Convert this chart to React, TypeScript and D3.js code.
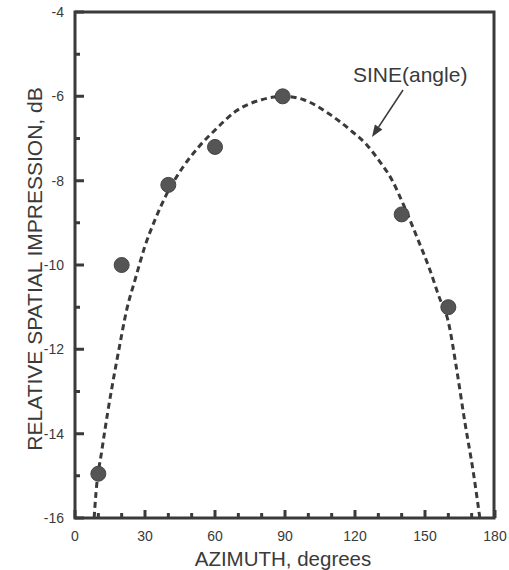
import React from "react";
import * as d3 from "d3";

const azimuth = [10, 20, 40, 60, 89, 140, 160];
const impression = [-14.95, -10.0, -8.1, -7.2, -6.0, -8.8, -11.0];

const sineAz = [8.2, 9, 11.5, 14, 16, 19, 22, 26, 30, 34.5, 39, 46, 53, 60, 69, 80, 90, 98, 109, 118, 125, 130, 136, 141, 147, 152, 156, 160, 163.5, 167, 170.8, 173.5];
const sineDb = [-16.0, -15.4, -14.4, -13.5, -12.85, -11.95, -11.1, -10.3, -9.55, -8.9, -8.35, -7.7, -7.2, -6.8, -6.35, -6.08, -6.0, -6.08, -6.42, -6.8, -7.15, -7.5, -8.0, -8.6, -9.4, -10.1, -10.75, -11.35, -12.45, -13.7, -14.95, -16.0];

const xTicks = [0, 30, 60, 90, 120, 150, 180];
const xMinor = [10, 20, 40, 50, 70, 80, 100, 110, 130, 140, 160, 170];
const yTicks = [-4, -6, -8, -10, -12, -14, -16];
const yMinor = [-5, -7, -9, -11, -13, -15];

const xTitle = "AZIMUTH, degrees";
const yTitle = "RELATIVE SPATIAL IMPRESSION, dB";
const noteText = "SINE(angle)";

export default function App() {
  const W = 509, H = 570;
  const left = 75, right = 494, top = 12, bottom = 518;
  const x = d3.scaleLinear().domain([0, 180]).range([left, 495]);
  const y = d3.scaleLinear().domain([-16, -4]).range([bottom, top]);
  const ink = "#3a3a3a";
  const font = "'Liberation Sans', Arial, Helvetica, sans-serif";

  const line = d3
    .line<number>()
    .x((_, i) => x(sineAz[i]))
    .y((d) => y(d))
    .curve(d3.curveMonotoneX);
  const pathD = line(sineDb) || "";

  // arrow
  const ax1 = 403, ay1 = 90, ax2 = 372, ay2 = 137;
  const ang = Math.atan2(ay2 - ay1, ax2 - ax1);
  const hl = 12, hw = 4.5;
  const bx = ax2 - hl * Math.cos(ang), by = ay2 - hl * Math.sin(ang);
  const head = `M${ax2},${ay2} L${bx + hw * Math.sin(ang)},${by - hw * Math.cos(ang)} L${bx - hw * Math.sin(ang)},${by + hw * Math.cos(ang)} Z`;

  const tickPath = [
    ...yTicks.map((t) => `M${left},${y(t)}H${left + 9}`),
    ...yMinor.map((t) => `M${left},${y(t)}H${left + 5}`),
    ...xTicks.map((t) => `M${x(t)},${bottom}V${bottom - 8}`),
    ...xMinor.map((t) => `M${x(t)},${bottom}V${bottom - 5}`),
  ].join("");

  return (
    <svg width={W} height={H} style={{ position: "absolute", left: 0, top: 0, background: "#fff" }} fontFamily={font}>
      <rect x={0} y={0} width={W} height={H} fill="#fff" />
      {/* sine curve */}
      <path d={pathD} fill="none" stroke={ink} strokeWidth={3} strokeDasharray="6 4" />
      {/* data points */}
      {azimuth.map((a, i) => (
        <circle key={i} cx={x(a)} cy={y(impression[i])} r={7.5} fill="#555" stroke="#444" strokeWidth={1} />
      ))}
      {/* frame */}
      <rect x={left} y={top} width={right - left} height={bottom - top} fill="none" stroke={ink} strokeWidth={3} />
      {/* ticks */}
      <path d={tickPath} fill="none" stroke={ink} strokeWidth={3} />
      {/* tick labels */}
      {yTicks.map((t) => (
        <text key={"yl" + t} x={64} y={y(t) + 5} textAnchor="end" fontSize={14} fill={ink}>
          {t}
        </text>
      ))}
      {xTicks.map((t) => (
        <text key={"xl" + t} x={x(t)} y={541} textAnchor="middle" fontSize={14} fill={ink}>
          {t}
        </text>
      ))}
      {/* titles */}
      <text x={283} y={566} textAnchor="middle" fontSize={20.5} fill={ink}>
        {xTitle}
      </text>
      <text transform={`translate(42,269) rotate(-90)`} textAnchor="middle" fontSize={21} fill={ink}>
        {yTitle}
      </text>
      {/* annotation */}
      <text x={353} y={82} fontSize={21} fill={ink}>
        {noteText}
      </text>
      <line x1={ax1} y1={ay1} x2={bx} y2={by} stroke={ink} strokeWidth={1.5} />
      <path d={head} fill={ink} />
    </svg>
  );
}
